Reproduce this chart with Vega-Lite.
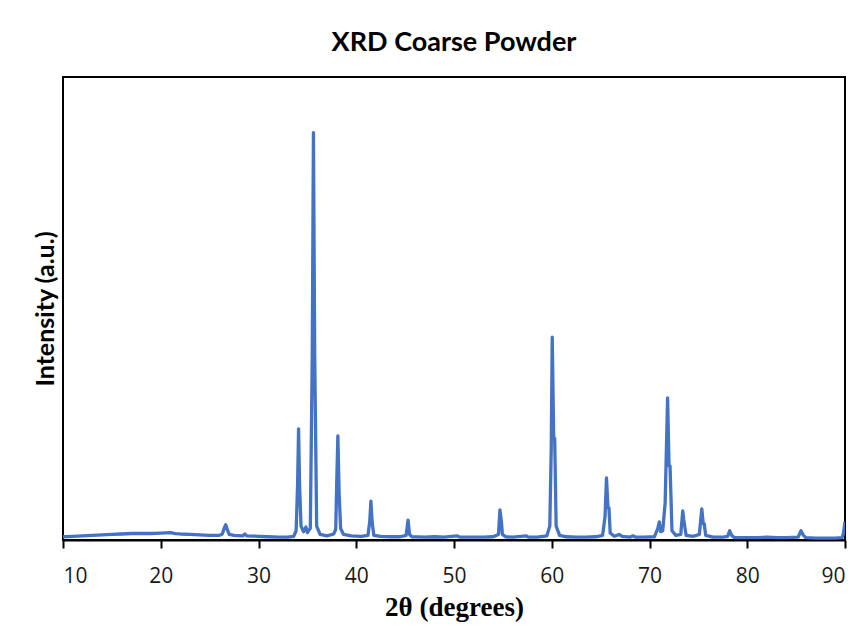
{
  "$schema": "https://vega.github.io/schema/vega-lite/v6.json",
  "autosize": "none",
  "width": 782,
  "height": 463,
  "padding": {"left": 63, "top": 77, "right": 22, "bottom": 99},
  "background": "white",
  "title": {"text": "XRD Coarse Powder", "font": "Lato", "fontSize": 27, "fontWeight": "bold", "color": "#000000", "anchor": "middle", "offset": 20},
  "data": {"values": [
    {"t": 10.0, "i": 0.7}, {"t": 11, "i": 0.8}, {"t": 12, "i": 0.9}, {"t": 13, "i": 1.0}, {"t": 14, "i": 1.1},
    {"t": 15, "i": 1.2}, {"t": 16, "i": 1.3}, {"t": 17, "i": 1.4}, {"t": 18, "i": 1.4}, {"t": 19, "i": 1.4},
    {"t": 20, "i": 1.5}, {"t": 21, "i": 1.6}, {"t": 21.5, "i": 1.4}, {"t": 22, "i": 1.3}, {"t": 23, "i": 1.2},
    {"t": 24, "i": 1.1}, {"t": 25, "i": 1.0}, {"t": 26, "i": 1.0}, {"t": 26.3, "i": 1.3}, {"t": 26.5, "i": 2.6},
    {"t": 26.65, "i": 3.3}, {"t": 26.8, "i": 2.3}, {"t": 27.0, "i": 1.2}, {"t": 27.5, "i": 1.0}, {"t": 28.4, "i": 0.9},
    {"t": 28.6, "i": 1.3}, {"t": 28.8, "i": 0.9}, {"t": 30, "i": 0.8}, {"t": 31, "i": 0.7}, {"t": 32, "i": 0.6},
    {"t": 33, "i": 0.6}, {"t": 33.6, "i": 0.8}, {"t": 33.85, "i": 2.0}, {"t": 34.0, "i": 12}, {"t": 34.1, "i": 24},
    {"t": 34.2, "i": 12}, {"t": 34.35, "i": 3}, {"t": 34.6, "i": 1.8}, {"t": 34.85, "i": 2.8}, {"t": 35.0, "i": 1.6},
    {"t": 35.3, "i": 2.5}, {"t": 35.5, "i": 40}, {"t": 35.62, "i": 88}, {"t": 35.75, "i": 40}, {"t": 35.95, "i": 3},
    {"t": 36.3, "i": 1.2}, {"t": 37.0, "i": 0.9}, {"t": 37.7, "i": 1.3}, {"t": 37.9, "i": 2.3}, {"t": 38.0, "i": 12},
    {"t": 38.12, "i": 22.5}, {"t": 38.25, "i": 10}, {"t": 38.4, "i": 2.5}, {"t": 38.7, "i": 1.2}, {"t": 39.5, "i": 0.9},
    {"t": 40.5, "i": 0.8}, {"t": 41.2, "i": 1.0}, {"t": 41.38, "i": 4}, {"t": 41.5, "i": 8.4}, {"t": 41.62, "i": 4},
    {"t": 41.8, "i": 1.0}, {"t": 42.5, "i": 0.8}, {"t": 43.5, "i": 0.7}, {"t": 44.5, "i": 0.7}, {"t": 45.1, "i": 1.0},
    {"t": 45.3, "i": 4.3}, {"t": 45.45, "i": 1.2}, {"t": 45.7, "i": 0.7}, {"t": 47, "i": 0.6}, {"t": 48, "i": 0.7},
    {"t": 49, "i": 0.6}, {"t": 50.3, "i": 0.9}, {"t": 50.6, "i": 0.6}, {"t": 52, "i": 0.6}, {"t": 53, "i": 0.6},
    {"t": 54, "i": 0.7}, {"t": 54.55, "i": 1.2}, {"t": 54.7, "i": 6.5}, {"t": 54.85, "i": 4.0}, {"t": 54.95, "i": 1.2},
    {"t": 55.3, "i": 0.7}, {"t": 56, "i": 0.6}, {"t": 57.4, "i": 0.9}, {"t": 57.6, "i": 0.6}, {"t": 58.5, "i": 0.6},
    {"t": 59.5, "i": 0.9}, {"t": 59.8, "i": 3}, {"t": 59.95, "i": 20}, {"t": 60.05, "i": 43.8}, {"t": 60.2, "i": 22},
    {"t": 60.3, "i": 22}, {"t": 60.45, "i": 3}, {"t": 60.8, "i": 1.0}, {"t": 61.5, "i": 0.7}, {"t": 62.5, "i": 0.6},
    {"t": 63.5, "i": 0.6}, {"t": 64.5, "i": 0.7}, {"t": 65.2, "i": 1.0}, {"t": 65.45, "i": 5}, {"t": 65.6, "i": 13.4},
    {"t": 65.75, "i": 7}, {"t": 65.85, "i": 7}, {"t": 65.98, "i": 1.5}, {"t": 66.4, "i": 0.8}, {"t": 66.9, "i": 1.2},
    {"t": 67.2, "i": 0.8}, {"t": 68, "i": 0.6}, {"t": 68.3, "i": 0.9}, {"t": 68.6, "i": 0.6}, {"t": 69.5, "i": 0.6},
    {"t": 70.5, "i": 0.7}, {"t": 70.85, "i": 2.5}, {"t": 71.0, "i": 3.9}, {"t": 71.15, "i": 1.8}, {"t": 71.35, "i": 2.0},
    {"t": 71.6, "i": 8}, {"t": 71.85, "i": 30.7}, {"t": 72.0, "i": 16}, {"t": 72.1, "i": 16}, {"t": 72.3, "i": 2},
    {"t": 72.7, "i": 1.0}, {"t": 73.2, "i": 1.2}, {"t": 73.4, "i": 6.3}, {"t": 73.5, "i": 4.5}, {"t": 73.6, "i": 3.0},
    {"t": 73.75, "i": 1.0}, {"t": 74.5, "i": 0.8}, {"t": 75.1, "i": 1.2}, {"t": 75.35, "i": 6.7}, {"t": 75.5, "i": 3.5},
    {"t": 75.6, "i": 3.5}, {"t": 75.75, "i": 1.0}, {"t": 76.5, "i": 0.6}, {"t": 77.5, "i": 0.6}, {"t": 78.0, "i": 0.8},
    {"t": 78.2, "i": 2.0}, {"t": 78.4, "i": 1.0}, {"t": 78.7, "i": 0.5}, {"t": 80, "i": 0.5}, {"t": 81, "i": 0.5},
    {"t": 82, "i": 0.6}, {"t": 83, "i": 0.5}, {"t": 84, "i": 0.5}, {"t": 85.2, "i": 0.6}, {"t": 85.5, "i": 2.0},
    {"t": 85.75, "i": 1.0}, {"t": 86, "i": 0.5}, {"t": 87, "i": 0.4}, {"t": 88, "i": 0.4}, {"t": 89, "i": 0.4},
    {"t": 89.7, "i": 0.5}, {"t": 89.85, "i": 1.5}, {"t": 90.0, "i": 4}
  ]},
  "mark": {"type": "line", "color": "#4472C4", "strokeWidth": 3.3, "interpolate": "linear", "strokeJoin": "round", "clip": true},
  "encoding": {
    "x": {
      "field": "t", "type": "quantitative",
      "scale": {"domain": [10, 90], "nice": false, "zero": false},
      "axis": {
        "title": "2θ (degrees)", "titleFont": "Liberation Serif", "titleFontSize": 27, "titleFontWeight": "bold", "titleColor": "#000000", "titlePadding": 8,
        "values": [10, 20, 30, 40, 50, 60, 70, 80, 90],
        "labelFont": "Open Sans", "labelFontSize": 21, "labelColor": "#1a1a1a", "labelPadding": 17,
        "tickColor": "#000000", "tickSize": 8, "tickWidth": 2,
        "domainColor": "#000000", "domainWidth": 2, "grid": false
      }
    },
    "y": {
      "field": "i", "type": "quantitative",
      "scale": {"domain": [0, 100], "nice": false},
      "axis": {
        "title": "Intensity (a.u.)", "titleFont": "Lato", "titleFontSize": 25, "titleFontWeight": "bold", "titleColor": "#000000", "titlePadding": 5,
        "labels": false, "ticks": false, "domain": false, "grid": false
      }
    }
  },
  "config": {
    "view": {"stroke": "#000000", "strokeWidth": 2}
  }
}
